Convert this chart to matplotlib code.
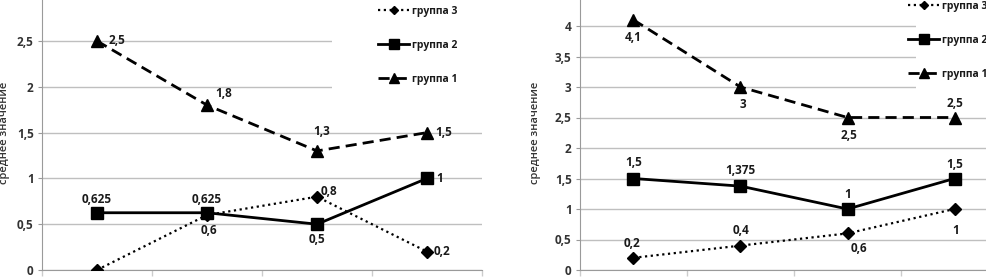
import matplotlib
matplotlib.use("Agg")
import matplotlib.pyplot as plt
from matplotlib.patches import Rectangle

plt.rcParams['font.family'] = ['Open Sans', 'DejaVu Sans']

categories = [1, 2, 3, 4]
series_names = ["группа 1", "группа 2", "группа 3"]

left_g1 = [2.5, 1.8, 1.3, 1.5]
left_g2 = [0.625, 0.625, 0.5, 1.0]
left_g3 = [0.0, 0.6, 0.8, 0.2]
left_lbl1 = ["2,5", "1,8", "1,3", "1,5"]
left_lbl2 = ["0,625", "0,625", "0,5", "1"]
left_lbl3 = ["", "0,6", "0,8", "0,2"]
left_yticks = [0, 0.5, 1, 1.5, 2, 2.5, 3]
left_yticklabels = ["0", "0,5", "1", "1,5", "2", "2,5", ""]

right_g1 = [4.1, 3.0, 2.5, 2.5]
right_g2 = [1.5, 1.375, 1.0, 1.5]
right_g3 = [0.2, 0.4, 0.6, 1.0]
right_lbl1 = ["4,1", "3", "2,5", "2,5"]
right_lbl2 = ["1,5", "1,375", "1", "1,5"]
right_lbl3 = ["0,2", "0,4", "0,6", "1"]
right_yticks = [0, 0.5, 1, 1.5, 2, 2.5, 3, 3.5, 4, 4.5]
right_yticklabels = ["0", "0,5", "1", "1,5", "2", "2,5", "3", "3,5", "4", ""]

# label offsets in pixels (dx, dy) per point
left_off1 = [(20, 0), (17, 12), (5, 19), (17, 0)]
left_off2 = [(0, 13), (0, 13), (0, -15), (13, 0)]
left_off3 = [(0, 0), (2, -15), (12, 5), (15, 0)]
right_off1 = [(0, -18), (2, -18), (1, -18), (0, 14)]
right_off2 = [(0, 16), (0, 16), (0, 14), (0, 14)]
right_off3 = [(-1, 14), (1, 15), (11, -15), (1, -21)]

W, H = 987, 277
fig = plt.figure(figsize=(W / 100, H / 100), dpi=100)

TXT = '#1a1a1a'
TICK = '#333333'
GRID = '#bfbfbf'
AXC = '#9a9a9a'


def panel(rect, ymax, g1, g2, g3, l1, l2, l3, o1, o2, o3, yt, ytl, ylab_x,
          leg_anchor, mask_x0, mask_y0):
    ax = fig.add_axes(rect)
    x = list(range(len(categories)))
    ax.set_xlim(-0.5, len(categories) - 0.5)
    ax.set_ylim(0, ymax)
    ax.set_yticks(yt)
    ax.set_yticklabels(ytl, fontsize=8.5, fontweight='bold', color=TICK)
    ax.tick_params(axis='y', length=3, color=AXC, pad=3)
    ax.set_xticks([i - 0.5 for i in range(len(categories) + 1)])
    ax.set_xticklabels([])
    ax.tick_params(axis='x', length=4, color='#cccccc', width=1)
    ax.grid(axis='y', color=GRID, linewidth=1)
    ax.set_axisbelow(True)
    for s in ['top', 'right']:
        ax.spines[s].set_visible(False)
    ax.spines['left'].set_color(AXC)
    ax.spines['bottom'].set_color(AXC)

    # white area behind the legend that hides the grid lines
    ax.add_patch(Rectangle((mask_x0, mask_y0), 10, 10, transform=ax.transData,
                           facecolor='white', edgecolor='none', zorder=1.5))

    ax.plot(x, g3, linestyle=(0, (1, 1.6)), color='black', lw=1.6,
            marker='D', ms=6, label=series_names[2], zorder=3)
    ax.plot(x, g2, linestyle='-', color='black', lw=2,
            marker='s', ms=9, label=series_names[1], zorder=3)
    ax.plot(x, g1, linestyle=(0, (4, 2.2)), color='black', lw=2,
            marker='^', ms=9, label=series_names[0], zorder=3)

    for vals, labs, offs in [(g1, l1, o1), (g2, l2, o2), (g3, l3, o3)]:
        for xi, v, t, (dx, dy) in zip(x, vals, labs, offs):
            if t:
                ax.annotate(t, (xi, v), xytext=(dx, dy), textcoords='offset pixels',
                            ha='center', va='center', fontsize=8.5, fontweight='bold',
                            color=TXT, zorder=4)

    ax.set_ylabel("среднее значение", fontsize=8, fontweight='semibold', color=TICK)
    ax.yaxis.set_label_coords(ylab_x, 0.5)

    handles, labels = ax.get_legend_handles_labels()
    leg = ax.legend(handles, labels, loc='upper left', bbox_to_anchor=leg_anchor,
                    bbox_transform=fig.transFigure, frameon=False, fontsize=7.5,
                    labelspacing=2.2, handlelength=3.0, handletextpad=0.3,
                    borderpad=0, borderaxespad=0, markerscale=0.75)
    for t in leg.get_texts():
        t.set_fontweight('bold')
        t.set_color(TXT)
    leg.set_zorder(5)
    return ax


panel([42 / W, 7 / H, 440 / W, 274.8 / H], 3.0,
      left_g1, left_g2, left_g3, left_lbl1, left_lbl2, left_lbl3,
      left_off1, left_off2, left_off3, left_yticks, left_yticklabels,
      (10 - 42) / 440, (378 / W, (H - 6) / H), 2.14, 1.75)

panel([580 / W, 7 / H, 428 / W, 274.5 / H], 4.5,
      right_g1, right_g2, right_g3, right_lbl1, right_lbl2, right_lbl3,
      right_off1, right_off2, right_off3, right_yticks, right_yticklabels,
      (541 - 580) / 428, (908 / W, (H - 1) / H), 2.64, 2.75)

fig.savefig("out.png", dpi=100)
